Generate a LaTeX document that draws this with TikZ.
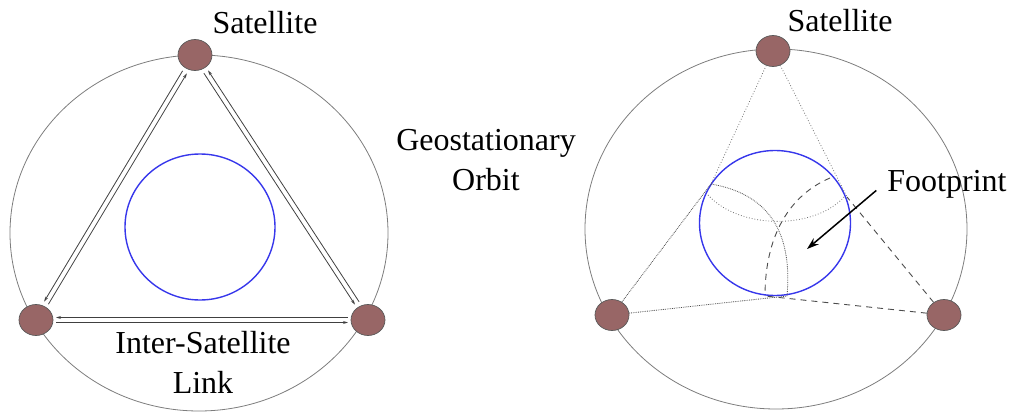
\documentclass[tikz,border=0pt]{standalone}
\usepackage{fontspec}
\setmainfont{Liberation Serif}
\usepackage{tikz}
\usetikzlibrary{shapes.geometric,arrows.meta,positioning,calc}
\definecolor{satbrown}{RGB}{152,102,102}
\definecolor{earthblue}{RGB}{55,55,235}
\definecolor{orbitgray}{RGB}{125,125,125}
\begin{document}
\begin{tikzpicture}[x=1pt, y=-1pt,
      sat/.style={ellipse, draw=black!65, line width=0.7pt, fill=satbrown,
                  minimum width=34pt, minimum height=31pt, inner sep=0pt},
      earth/.style={ellipse, draw=earthblue, line width=1.4pt,
                    minimum width=150pt, minimum height=146pt, inner sep=0pt},
      orbit/.style={draw=orbitgray, line width=0.8pt},
      link/.style={black!75, line width=0.8pt, shorten <=20pt, shorten >=20pt},
      lbl/.style={font=\fontsize{32}{40}\selectfont, align=center},
      topcone/.style={black!55, line width=0.8pt, dotted},
      leftcone/.style={black!70, line width=0.8pt, densely dotted},
      rightcone/.style={black!70, line width=0.9pt, dash pattern=on 6pt off 5pt},
    ]
      \useasboundingbox (0,0) rectangle (1012,412);
      %% Left: ring of three satellites
      \draw[orbit] (199,233) ellipse [x radius=189, y radius=178];
      \node[earth] (earthL) at (200,227) {};
      \node[sat] (satTl) at (195,55) {};
      \node[sat] (satLl) at (36,320) {};
      \node[sat] (satRl) at (368,320) {};
      \node[lbl] at (265,23) {Satellite};
      \node[lbl] at (203,362) {Inter-Satellite\\Link};
      %% Inter-satellite links (one line each way)
      \foreach \a/\b in {satTl/satLl, satLl/satRl, satRl/satTl}{
        \draw[link, {Stealth[length=5pt,width=3pt]}-]
             ($(\a)!2.5pt!90:(\b)$) -- ($(\b)!2.5pt!-90:(\a)$);
        \draw[link, -{Stealth[length=5pt,width=3pt]}]
             ($(\a)!2.5pt!-90:(\b)$) -- ($(\b)!2.5pt!90:(\a)$);
      }
      %% Middle label
      \node[lbl] at (486,160) {Geostationary\\Orbit};
      %% Right: footprints
      \draw[orbit] (776,229) ellipse [x radius=191, y radius=180];
      \node[earth, minimum width=151pt, minimum height=145pt] (earthR) at (775,223) {};
      \node[sat] (satTr) at (773,51) {};
      \node[sat] (satLr) at (612,315) {};
      \node[sat] (satRr) at (944,315) {};
      \node[lbl] at (840,21) {Satellite};
      \coordinate (p1) at (711,184);
      \coordinate (p2) at (847,197);
      \coordinate (p3l) at (787,296);
      \coordinate (p3r) at (765,296);
      %% Coverage cones
      \draw[topcone] (satTr) -- (p1);
      \draw[topcone] (satTr) -- (p2);
      \draw[leftcone] (satLr) -- (p1);
      \draw[leftcone] (satLr) -- (p3l);
      \draw[rightcone] (satRr) -- (p2);
      \draw[rightcone] (satRr) -- (p3r);
      %% Footprint borders
      \draw[topcone] (708,195) .. controls (740,230) and (815,230) .. (845,196);
      \draw[leftcone] (p1) .. controls (775,195) and (792,240) .. (p3l);
      \draw[rightcone] (830,178) .. controls (790,195) and (765,235) .. (p3r);
      \node[lbl] (fp) at (947,184) {Footprint};
      \coordinate (fpTip) at (807,249);
      \draw[-{Stealth[length=12pt,width=8pt]}, line width=1.5pt, shorten <=10pt]
           (fp.west) -- (fpTip);
    \end{tikzpicture}
\end{document}
